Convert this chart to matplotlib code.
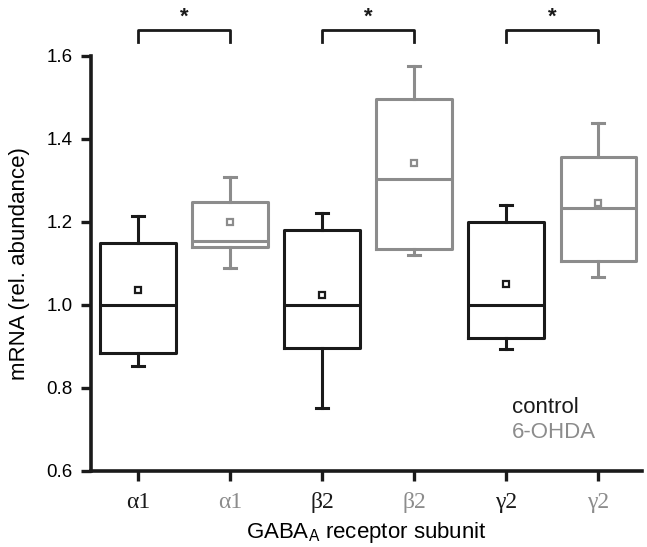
# GABA-A receptor subunit mRNA: control vs 6-OHDA box plots
import matplotlib
matplotlib.use("Agg")
import matplotlib.pyplot as plt

# values
labels = ["α1", "α1", "β2", "β2", "γ2", "γ2"]
groups = ["control", "6-OHDA", "control", "6-OHDA", "control", "6-OHDA"]
whislo = [0.853, 1.088, 0.751, 1.120, 0.894, 1.067]
q1 = [0.885, 1.140, 0.896, 1.134, 0.920, 1.106]
med = [1.000, 1.155, 1.000, 1.304, 1.000, 1.234]
q3 = [1.149, 1.247, 1.181, 1.496, 1.199, 1.357]
whishi = [1.215, 1.308, 1.221, 1.577, 1.240, 1.439]
means = [1.036, 1.200, 1.024, 1.343, 1.050, 1.245]
sig_pairs = [(1, 2), (3, 4), (5, 6)]

BLACK = "#1a1a1a"
GRAY = "#8c8c8c"
colors = {"control": BLACK, "6-OHDA": GRAY}

plt.rcParams["font.family"] = ["Liberation Sans", "DejaVu Sans"]

fig = plt.figure(figsize=(6.47, 5.47), dpi=100)
ax = fig.add_axes([0.1406, 0.139, 0.851, 0.7587])

for i in range(len(labels)):
    c = colors[groups[i]]
    stats = [{"med": med[i], "q1": q1[i], "q3": q3[i],
              "whislo": whislo[i], "whishi": whishi[i], "mean": means[i]}]
    ax.bxp(stats, positions=[i + 1], widths=0.82, capwidths=0.13,
           showfliers=False, showmeans=True,
           boxprops=dict(color=c, linewidth=2.2),
           medianprops=dict(color=c, linewidth=2.2),
           whiskerprops=dict(color=c, linewidth=2.2),
           capprops=dict(color=c, linewidth=2.2),
           meanprops=dict(marker="s", markersize=5, markerfacecolor="white",
                          markeredgecolor=c, markeredgewidth=1.6))

# significance brackets
for a, b in sig_pairs:
    ax.plot([a, a, b, b], [1.634, 1.663, 1.663, 1.634], color=BLACK,
            linewidth=2, clip_on=False)
    ax.text((a + b) / 2, 1.668, "*", ha="center", va="bottom",
            fontsize=16, fontweight="bold", color=BLACK)

ax.set_xlim(0.49, 6.47)
ax.set_ylim(0.6, 1.6)
ax.set_yticks([0.6, 0.8, 1.0, 1.2, 1.4, 1.6])
ax.set_yticklabels(["0.6", "0.8", "1.0", "1.2", "1.4", "1.6"])
ax.set_xticks(range(1, len(labels) + 1))

for side in ["top", "right"]:
    ax.spines[side].set_visible(False)
for side in ["left", "bottom"]:
    ax.spines[side].set_linewidth(2.6)
    ax.spines[side].set_color(BLACK)
ax.tick_params(axis="both", length=7, width=2.4, color=BLACK,
               labelsize=13.5, pad=6)
ax.tick_params(axis="x", pad=8)

ax.set_xticklabels(labels, fontsize=17, family=["Liberation Serif", "DejaVu Serif"])
for lab, g in zip(ax.get_xticklabels(), groups):
    lab.set_color(colors[g])

ax.set_ylabel("mRNA (rel. abundance)", fontsize=16, labelpad=12)
ax.set_xlabel("GABA$_\\mathregular{A}$ receptor subunit", fontsize=16, labelpad=5)

ax.text(5.06, 0.754, "control", color=BLACK, fontsize=16, va="center")
ax.text(5.06, 0.692, "6-OHDA", color=GRAY, fontsize=16, va="center")

fig.savefig("out.png", dpi=100)
